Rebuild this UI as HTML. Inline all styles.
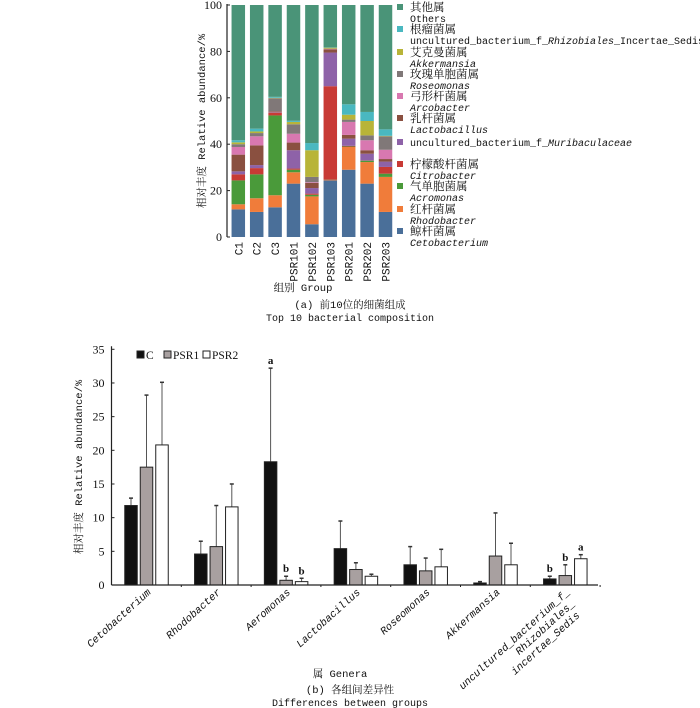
<!DOCTYPE html>
<html><head><meta charset="utf-8">
<style>
html,body{margin:0;padding:0;background:#fff;}
svg{display:block;}
text{font-family:"Liberation Mono","Noto Serif CJK SC",monospace;fill:#111;}
.cn{font-family:"Liberation Mono","Noto Serif CJK SC",monospace;}
.num{font-family:"Liberation Serif",serif;font-size:12px;}
</style></head>
<body>
<svg id="chart" width="700" height="708" viewBox="0 0 700 708">
<g id="top"></g>
<g id="bot"></g>
</svg>
<script>
// ---------- data: top stacked chart ----------
const samples = ["C1","C2","C3","PSR101","PSR102","PSR103","PSR201","PSR202","PSR203"];
const cetobacterium = [11.9,10.8,12.8,23.0,5.5,24.4,29.0,23.0,10.8];
const rhodobacter   = [2.2,5.9,5.2,4.9,12.0,0.2,9.8,9.3,15.1];
const acromonas     = [10.3,10.3,34.4,1.1,0.7,0.1,0.2,0.6,1.4];
const citrobacter   = [2.6,2.7,1.2,0.5,0.5,40.3,0.3,0.1,2.9];
const muribaculaceae= [1.3,1.3,0.2,7.9,2.4,14.5,3.1,2.9,2.3];
const lactobacillus = [7.2,8.5,0.3,3.3,2.2,1.4,1.6,1.5,1.1];
const arcobacter    = [3.3,3.9,0.1,3.8,0.3,0.2,5.6,4.3,4.0];
const roseomonas    = [1.2,1.4,5.6,4.1,2.3,0.1,1.0,2.1,5.8];
const akkermansia   = [0.8,0.7,0.2,1.0,11.5,0.4,2.1,6.2,0.2];
const rhizobiales   = [0.9,1.2,0.4,0.5,3.1,0.1,4.5,3.9,2.8];
const series = [cetobacterium,rhodobacter,acromonas,citrobacter,muribaculaceae,lactobacillus,arcobacter,roseomonas,akkermansia,rhizobiales];
const topTicks = [0,20,40,60,80,100];
// ---------- data: bottom grouped chart ----------
const genera = ["Cetobacterium","Rhodobacter","Aeromonas","Lactobacillus","Roseomonas","Akkermansia","uncultured_bacterium_f_|Rhizobiales_|incertae_Sedis"];
const groups = ["C","PSR1","PSR2"];
const meanC    = [11.8,4.6,18.3,5.4,3.0,0.3,0.9];
const meanPSR1 = [17.5,5.7,0.7,2.3,2.1,4.3,1.4];
const meanPSR2 = [20.8,11.6,0.5,1.3,2.7,3.0,3.9];
const errC     = [12.9,6.5,32.2,9.5,5.7,0.5,1.3];
const errPSR1  = [28.2,11.8,1.3,3.3,4.0,10.7,3.0];
const errPSR2  = [30.1,15.0,1.0,1.6,5.3,6.2,4.5];
const sigC    = ["","","a","","","","b"];
const sigPSR1 = ["","","b","","","","b"];
const sigPSR2 = ["","","b","","","","a"];
const botTicks = [0,5,10,15,20,25,30,35];

const NS="http://www.w3.org/2000/svg";
function mk(parent,tag,attrs,txt){const e=document.createElementNS(NS,tag);for(const k in attrs)e.setAttribute(k,attrs[k]);if(txt!==undefined)e.textContent=txt;parent.appendChild(e);return e;}

// ---------- top chart ----------
const colors=["#4a6f99","#f07c3a","#4a9a3a","#c83a35","#8e62a8","#8a5040","#d878b0","#807878","#b8b438","#4ab8c0","#4a9478"];
const T=document.getElementById('top');
const tY0=237,tY1=5,tX0=227;
const ty=v=>tY0-(tY0-tY1)*v/100;
const tx=i=>238.3+18.4*i;
const bw=13.5;
samples.forEach((s,i)=>{
  let acc=0;
  const vals=series.map(a=>a[i]);
  const others=100-vals.reduce((a,b)=>a+b,0);
  vals.concat([others]).forEach((v,k)=>{
    const r=mk(T,'rect',{x:tx(i)-bw/2,y:ty(acc+v),width:bw,height:Math.max(0,ty(acc)-ty(acc+v)),fill:colors[k]});
    
    
    acc+=v;
  });
  const t=mk(T,'text',{x:0,y:0,transform:`translate(${tx(i)+4},242) rotate(-90)`,'text-anchor':'end','font-size':'11'},s);
  
  
});
const ta=mk(T,'line',{x1:tX0,y1:tY1-1,x2:tX0,y2:tY0,stroke:'#222','stroke-width':1.2});

topTicks.forEach(v=>{
  mk(T,'line',{x1:tX0,y1:ty(v),x2:tX0+3,y2:ty(v),stroke:'#222'});
  const t=mk(T,'text',{x:tX0-5,y:ty(v)+4,'text-anchor':'end',class:'num'},v);
  
});
let yl=mk(T,'text',{x:0,y:0,transform:'translate(205,121) rotate(-90)','text-anchor':'middle','font-size':'10.5',class:'cn'},'相对丰度 Relative abundance/%');

// legend
const legRows=[[10,'其他属','Others'],[9,'根瘤菌属','RH'],[8,'艾克曼菌属','Akkermansia'],[7,'玫瑰单胞菌属','Roseomonas'],[6,'弓形杆菌属','Arcobacter'],[5,'乳杆菌属','Lactobacillus'],[4,'','MU'],[3,'柠檬酸杆菌属','Citrobacter'],[2,'气单胞菌属','Acromonas'],[1,'红杆菌属','Rhodobacter'],[0,'鲸杆菌属','Cetobacterium']];
const cnY=[10,32,55,77,99,121,145,167,189,212,234];
legRows.forEach((r,j)=>{
  const g=mk(T,'g',{});
  
  mk(g,'rect',{x:397,y:cnY[j]-6,width:6,height:6,fill:colors[r[0]]});
  if(r[1]){
    mk(g,'text',{x:410,y:cnY[j]+1,'font-size':'11.5',class:'cn'},r[1]);
    const ey=cnY[j]+12;
    if(r[2]==='RH'){const t=mk(g,'text',{x:410,y:ey,'font-size':'10'},'uncultured_bacterium_f_');mk(t,'tspan',{'font-style':'italic'},'Rhizobiales');mk(t,'tspan',{},'_Incertae_Sedis');}
    else mk(g,'text',{x:410,y:ey,'font-size':'10','font-style':r[0]===10?'normal':'italic'},r[2]);
  } else {
    const t=mk(g,'text',{x:410,y:cnY[j]+1,'font-size':'10'},'uncultured_bacterium_f_');mk(t,'tspan',{'font-style':'italic'},'Muribaculaceae');
  }
});
let t1=mk(T,'text',{x:303,y:291,'text-anchor':'middle','font-size':'10.5',class:'cn'},'组别 Group');

let t2=mk(T,'text',{x:350,y:308,'text-anchor':'middle','font-size':'10.5',class:'cn'},'(a) 前10位的细菌组成');

let t3=mk(T,'text',{x:350,y:321,'text-anchor':'middle','font-size':'10'},'Top 10 bacterial composition');


// ---------- bottom chart ----------
const B=document.getElementById('bot');
const bY0=585,bY1=349.3,bX0=111.5,bX1=598;
const by=v=>bY0-(bY0-bY1)*v/35;
const gx=i=>bX0+35+69.8*i;
const bbw=12.5,step=15.5;
const fills=["#111","#a8a0a0","#fff"];
const means=[meanC,meanPSR1,meanPSR2],errs=[errC,errPSR1,errPSR2],sigs=[sigC,sigPSR1,sigPSR2];
genera.forEach((gname,i)=>{
  groups.forEach((grp,k)=>{
    const cx=gx(i)+(k-1)*step;
    const m=means[k][i],e=errs[k][i];
    const el=mk(B,'line',{x1:cx,y1:by(e),x2:cx,y2:by(m),stroke:'#555','stroke-width':1});
    
    mk(B,'line',{x1:cx-2,y1:by(e),x2:cx+2,y2:by(e),stroke:'#333','stroke-width':1.5});
    const r=mk(B,'rect',{x:cx-bbw/2,y:by(m),width:bbw,height:bY0-by(m),fill:fills[k],stroke:'#222','stroke-width':1});
    
    if(sigs[k][i]){const s=mk(B,'text',{x:cx,y:by(e)-4,'text-anchor':'middle','font-size':'11','font-weight':'bold',style:'font-family:"Liberation Serif",serif'},sigs[k][i]);
      }
  });
  mk(B,'line',{x1:bX0+69.8*(i+1),y1:bY0,x2:bX0+69.8*(i+1),y2:bY0+2,stroke:'#222'});
  const lines=gname.split('|');
  const lab=mk(B,'text',{x:0,y:0,transform:`translate(${gx(i)+5},${bY0+8}) rotate(-42)`,'text-anchor':'end','font-size':'10.5','font-style':'italic'});
  lines.forEach((ln,j)=>{mk(lab,'tspan',{x:j*-4,dy:j?12:0},ln);});
  
});
const ba=mk(B,'line',{x1:bX0,y1:bY1-3,x2:bX0,y2:bY0,stroke:'#222','stroke-width':1.2});

const bx=mk(B,'line',{x1:bX0,y1:bY0,x2:bX1,y2:bY0,stroke:'#222','stroke-width':1.2});

botTicks.forEach(v=>{
  mk(B,'line',{x1:bX0,y1:by(v),x2:bX0+3,y2:by(v),stroke:'#222'});
  const t=mk(B,'text',{x:bX0-7,y:by(v)+4,'text-anchor':'end',class:'num'},v);
  
});
let byl=mk(B,'text',{x:0,y:0,transform:'translate(82,467) rotate(-90)','text-anchor':'middle','font-size':'10.5',class:'cn'},'相对丰度 Relative abundance/%');

[[137,'C',0],[164,'PSR1',1],[203,'PSR2',2]].forEach(l=>{
  const g=mk(B,'g',{});
  
  mk(g,'rect',{x:l[0],y:351,width:7,height:7,fill:fills[l[2]],stroke:'#222'});
  mk(g,'text',{x:l[0]+9,y:359,'font-size':'11.5',style:'font-family:"Liberation Serif",serif'},l[1]);
});
let g1=mk(B,'text',{x:340,y:677,'text-anchor':'middle','font-size':'10.5',class:'cn'},'属 Genera');

let g2=mk(B,'text',{x:350,y:693,'text-anchor':'middle','font-size':'10.5',class:'cn'},'(b) 各组间差异性');

let g3=mk(B,'text',{x:350,y:706,'text-anchor':'middle','font-size':'10'},'Differences between groups');

</script>
</body></html>
